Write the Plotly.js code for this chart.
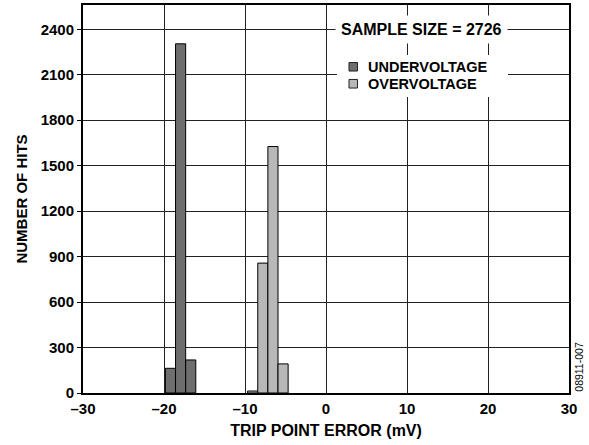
<!DOCTYPE html>
<html><head><meta charset="utf-8">
<script src="https://cdn.plot.ly/plotly-3.0.1.min.js"></script>
<style>body{margin:0;background:#fff}#c{width:589px;height:445px}</style>
</head><body><div id="c"></div>
<script>
const seriesNames = ['UNDERVOLTAGE', 'OVERVOLTAGE'];
const seriesColors = ['#6e6e6e', '#b8b8b8'];
const underX = [-19.2, -17.95, -16.7];
const underHits = [163, 2304, 218];
const overX = [-9.05, -7.8, -6.55, -5.3];
const overHits = [13, 857, 1626, 192];
const xTickVals = [-30, -20, -10, 0, 10, 20, 30];
const xTickText = ['–30', '–20', '–10', '0', '10', '20', '30'];
const yTickVals = [0, 300, 600, 900, 1200, 1500, 1800, 2100, 2400];
const yTickText = ['0', '300', '600', '900', '1200', '1500', '1800', '2100', '2400'];
const sampleSize = 2726;
const binWidth = 1.25;

const fam = 'Liberation Sans, Arial, sans-serif';
const bold = (s) => ({family: fam, size: s, color: '#000', weight: 'bold'});

const traces = [
  {type: 'bar', name: seriesNames[0], x: underX, y: underHits, width: binWidth,
   marker: {color: seriesColors[0], line: {color: '#000', width: 1}}},
  {type: 'bar', name: seriesNames[1], x: overX, y: overHits, width: binWidth,
   marker: {color: seriesColors[1], line: {color: '#000', width: 1}}}
];

// legend drawn manually (tight line spacing as in the reference)
const legendBox = {type: 'rect', xref: 'paper', yref: 'paper', layer: 'above',
  x0: 0.5226, x1: 0.8745, y0: 0.7629, y1: 0.8711,
  fillcolor: '#fff', line: {width: 0}};
const legendRows = [{y0: 0.8298, y1: 0.8517, ty: 0.8407}, {y0: 0.786, y1: 0.8081, ty: 0.7969}];
const shapes = [legendBox];
const annotations = [];
seriesNames.forEach((n, i) => {
  shapes.push({type: 'rect', xref: 'paper', yref: 'paper', layer: 'above',
    x0: 0.5473, x1: 0.5648, y0: legendRows[i].y0, y1: legendRows[i].y1,
    fillcolor: seriesColors[i], line: {color: '#222', width: 1}});
  annotations.push({xref: 'paper', yref: 'paper', x: 0.5823, y: legendRows[i].ty,
    xanchor: 'left', yanchor: 'middle', text: n, showarrow: false, font: bold(14.5)});
});
annotations.push({xref: 'paper', yref: 'paper', x: 0.6955, y: 0.9356,
  text: 'SAMPLE SIZE = ' + sampleSize, showarrow: false, bgcolor: '#fff', borderpad: 5,
  xanchor: 'center', yanchor: 'middle', font: bold(16)});
annotations.push({xref: 'paper', yref: 'paper', x: 1.0206, y: 0.0678, text: '08911-007',
  textangle: -90, showarrow: false, xanchor: 'center', yanchor: 'middle',
  font: {family: fam, size: 10.5, color: '#000'}});

const layout = {
  width: 589, height: 445,
  margin: {l: 83, r: 20, t: 5, b: 52},
  paper_bgcolor: '#fff', plot_bgcolor: '#fff',
  barmode: 'overlay',
  showlegend: false,
  xaxis: {range: [-30, 30], tickvals: xTickVals, ticktext: xTickText,
          showgrid: true, gridcolor: '#222', gridwidth: 1, zeroline: false,
          showline: true, linecolor: '#000', linewidth: 2, mirror: true, ticks: '',
          ticklabelstandoff: 1, tickfont: bold(15),
          title: {text: 'TRIP POINT ERROR (mV)', standoff: 9, font: bold(16)}},
  yaxis: {range: [0, 2560], tickvals: yTickVals, ticktext: yTickText,
          showgrid: true, gridcolor: '#222', gridwidth: 1, zeroline: false,
          showline: true, linecolor: '#000', linewidth: 2, mirror: true,
          ticks: 'outside', ticklen: 4, tickcolor: '#000', tickwidth: 1,
          tickfont: bold(15),
          title: {text: 'NUMBER OF HITS', standoff: 9, font: bold(15)}},
  shapes: shapes,
  annotations: annotations
};
Plotly.newPlot('c', traces, layout, {displayModeBar: false, staticPlot: true});
</script></body></html>
